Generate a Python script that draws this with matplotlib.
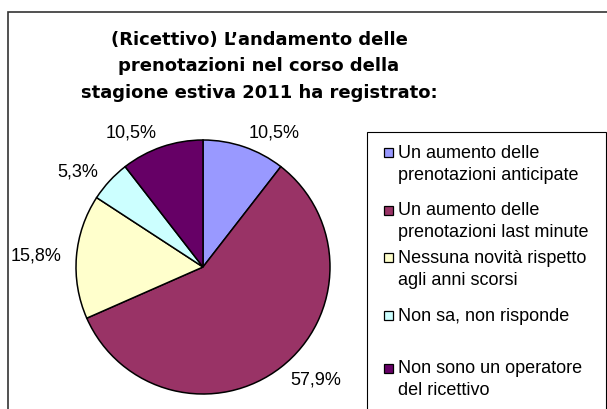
import matplotlib.pyplot as plt
from matplotlib.patches import Rectangle

# data
title_lines = ["(Ricettivo) L’andamento delle",
               "prenotazioni nel corso della",
               "stagione estiva 2011 ha registrato:"]
categories = ["Un aumento delle\nprenotazioni anticipate",
              "Un aumento delle\nprenotazioni last minute",
              "Nessuna novità rispetto\nagli anni scorsi",
              "Non sa, non risponde",
              "Non sono un operatore\ndel ricettivo"]
percentages = [10.5, 57.9, 15.8, 5.3, 10.5]
colors = ["#9999FF", "#993366", "#FFFFCC", "#CCFFFF", "#660066"]

W, H = 607, 410


def fx(x):
    return x / W


def fy(y):
    return 1 - y / H


fig = plt.figure(figsize=(W / 100, H / 100), dpi=100)

# chart area border (runs off right and bottom)
fig.add_artist(Rectangle((fx(8), fy(440)), (640 - 8) / W, (440 - 13) / H,
                         transform=fig.transFigure, fill=False,
                         ec="#333333", lw=1.2))

# title
for i, line in enumerate(title_lines):
    fig.text(fx(259), fy(45 + 26.5 * i), line, ha="center", va="baseline",
             fontsize=13, fontweight="bold", family="DejaVu Sans")

# pie
ax = fig.add_axes([fx(203 - 127), fy(268 + 127), 254 / W, 254 / H])
labels = [f"{p:.1f}%".replace(".", ",") for p in percentages]
wedges, texts = ax.pie(percentages, colors=colors, startangle=90,
                       counterclock=False, labels=labels, labeldistance=1.12,
                       wedgeprops=dict(edgecolor="black", linewidth=1.1),
                       textprops=dict(family="Liberation Sans", fontsize=13))
ax.set_xlim(-1, 1)
ax.set_ylim(-1, 1)

# legend box
fig.add_artist(Rectangle((fx(367), fy(440)), (606 - 367) / W, (440 - 133) / H,
                         transform=fig.transFigure, fill=False,
                         ec="black", lw=0.8))

legend_y = [153.5, 211, 258.5, 316.5, 369]
for wedge, label, yc in zip(wedges, categories, legend_y):
    fig.add_artist(Rectangle((fx(384), fy(yc + 4.5)), 9 / W, 9 / H,
                             transform=fig.transFigure,
                             fc=wedge.get_facecolor(), ec="black", lw=0.9))
    for k, line in enumerate(label.split("\n")):
        fig.text(fx(398), fy(yc + 4.5 + 22 * k), line, ha="left",
                 va="baseline", fontsize=13, family="Liberation Sans")

fig.savefig("out.png", dpi=100)
